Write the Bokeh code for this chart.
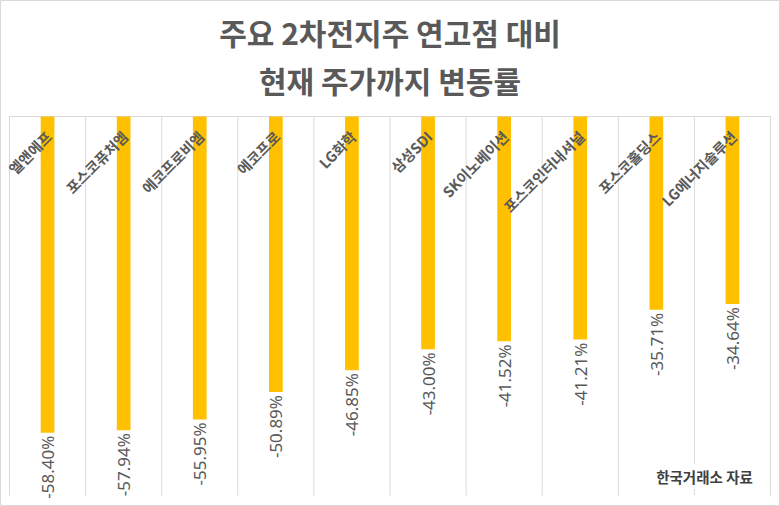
import math
from bokeh.plotting import figure
from bokeh.models import Range1d, ColumnDataSource
from bokeh.core.properties import value
from bokeh.embed import file_html
from bokeh.resources import INLINE

# ---- data ----
companies = ["엘앤에프", "포스코퓨처엠", "에코프로비엠", "에코프로", "LG화학",
             "삼성SDI", "SK이노베이션", "포스코인터내셔널", "포스코홀딩스", "LG에너지솔루션"]
changes = [-58.40, -57.94, -55.95, -50.89, -46.85, -43.00, -41.52, -41.21, -35.71, -34.64]
title_lines = ["주요 2차전지주 연고점 대비", "현재 주가까지 변동률"]
source_note = "한국거래소 자료"

# ---- layout constants (pixels in the figure) ----
W, H = 780, 506
FRAME_L, FRAME_R = 9, 770      # category area
FRAME_T, FRAME_B = 116, 495    # value area: 0 .. -70
Y_MIN = -70
n = len(companies)
xs = (FRAME_R - FRAME_L) / n
ys = (FRAME_B - FRAME_T) / (-Y_MIN)

def ypx(py):
    return (FRAME_T - py) / ys

def xpx(px):
    return (px - FRAME_L) / xs

p = figure(width=W, height=H,
           x_range=Range1d(xpx(0), xpx(W)),
           y_range=Range1d(ypx(H), ypx(0)),
           output_backend="svg", toolbar_location=None,
           x_axis_location=None, y_axis_location=None,
           min_border=0)
p.grid.visible = False
p.outline_line_color = "#D9D9D9"
p.background_fill_color = "white"
p.border_fill_color = "white"

GRID = "#D9D9D9"
TXT = "#595959"

# vertical category separators
edges = list(range(n + 1))
p.segment(x0=edges, y0=[0] * (n + 1), x1=edges, y1=[Y_MIN] * (n + 1),
          line_color=GRID, line_width=1)
# zero line at top
p.segment(x0=[0], y0=[0], x1=[n], y1=[0], line_color=GRID, line_width=1)

centers = [i + 0.5 for i in range(n)]
src = ColumnDataSource(dict(
    x=centers, v=changes, name=companies,
    lab=[f"{v:.2f}%" for v in changes],
))

p.vbar(x="x", top=0, bottom="v", width=0.18, source=src,
       fill_color="#FFC000", line_color=None)

# value labels under bar ends
p.text(x="x", y="v", text="lab", source=src, angle=math.pi / 2,
       y_offset=3, text_align="right", text_baseline="middle",
       text_font=value("Noto Sans"), text_font_size="17px",
       text_color=TXT)

# category labels, rotated 45 degrees, ending near bar tops
p.text(x="x", y=ypx(133), text="name", source=src, angle=math.pi / 4,
       x_offset=1, text_align="right", text_baseline="middle",
       text_font=value("Noto Sans CJK KR"), text_font_style="bold",
       text_font_size="14.5px", text_color=TXT)

# title
tsrc = ColumnDataSource(dict(x=[n / 2, n / 2], y=[ypx(31), ypx(79)], t=title_lines))
p.text(x="x", y="y", text="t", source=tsrc, text_align="center",
       text_baseline="middle", text_font=value("Noto Sans CJK KR"),
       text_font_style="bold", text_font_size="30px", text_color=TXT)

# source note
ssrc = ColumnDataSource(dict(x=[xpx(704)], y=[ypx(476)], t=[source_note]))
p.text(x="x", y="y", text="t", source=ssrc, text_align="center",
       text_baseline="middle", text_font=value("Noto Sans CJK KR"),
       text_font_style="bold", text_font_size="14.5px", text_color="#404040",
       background_fill_color="white", padding=2)

open("out.html", "w").write(file_html(p, INLINE))
